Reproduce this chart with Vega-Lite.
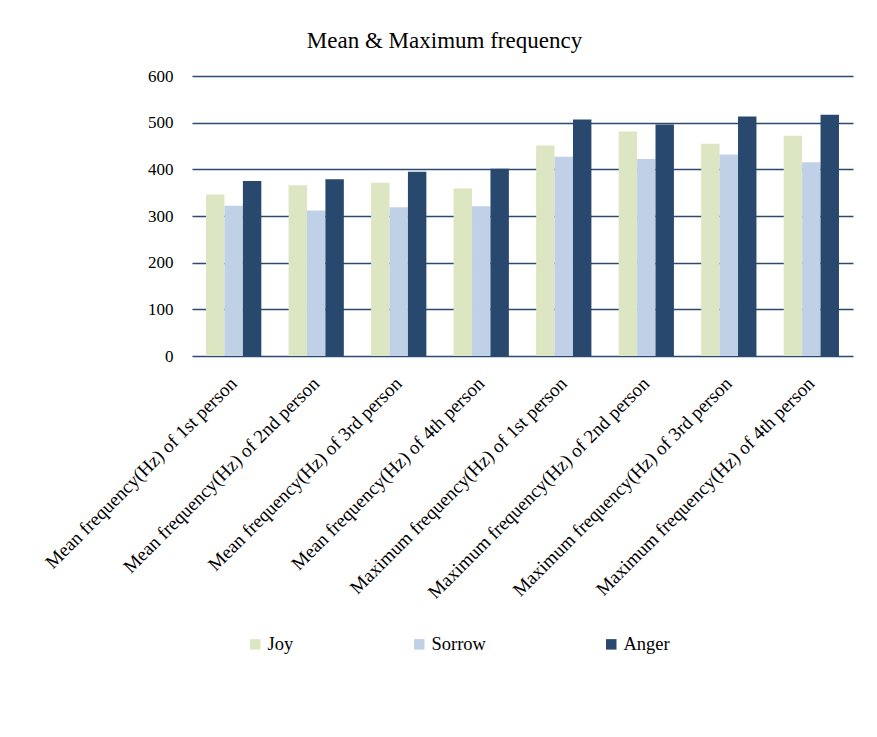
{
  "$schema": "https://vega.github.io/schema/vega-lite/v6.json",
  "width": 661,
  "height": 280,
  "autosize": {"type": "none"},
  "padding": {"left": 192, "top": 76, "right": 24, "bottom": 381},
  "background": "white",
  "title": {"text": "Mean & Maximum frequency", "font": "Liberation Serif", "fontSize": 23, "fontWeight": "normal", "color": "black", "anchor": "middle", "dx": -78, "offset": 14},
  "data": {"values": [
    {"cat": "Mean frequency(Hz) of 1st person", "emotion": "Joy", "value": 346},
    {"cat": "Mean frequency(Hz) of 1st person", "emotion": "Sorrow", "value": 322},
    {"cat": "Mean frequency(Hz) of 1st person", "emotion": "Anger", "value": 375},
    {"cat": "Mean frequency(Hz) of 2nd person", "emotion": "Joy", "value": 366},
    {"cat": "Mean frequency(Hz) of 2nd person", "emotion": "Sorrow", "value": 312},
    {"cat": "Mean frequency(Hz) of 2nd person", "emotion": "Anger", "value": 379},
    {"cat": "Mean frequency(Hz) of 3rd person", "emotion": "Joy", "value": 371},
    {"cat": "Mean frequency(Hz) of 3rd person", "emotion": "Sorrow", "value": 319},
    {"cat": "Mean frequency(Hz) of 3rd person", "emotion": "Anger", "value": 395},
    {"cat": "Mean frequency(Hz) of 4th person", "emotion": "Joy", "value": 359},
    {"cat": "Mean frequency(Hz) of 4th person", "emotion": "Sorrow", "value": 321},
    {"cat": "Mean frequency(Hz) of 4th person", "emotion": "Anger", "value": 401},
    {"cat": "Maximum frequency(Hz) of 1st person", "emotion": "Joy", "value": 451},
    {"cat": "Maximum frequency(Hz) of 1st person", "emotion": "Sorrow", "value": 427},
    {"cat": "Maximum frequency(Hz) of 1st person", "emotion": "Anger", "value": 507},
    {"cat": "Maximum frequency(Hz) of 2nd person", "emotion": "Joy", "value": 481},
    {"cat": "Maximum frequency(Hz) of 2nd person", "emotion": "Sorrow", "value": 422},
    {"cat": "Maximum frequency(Hz) of 2nd person", "emotion": "Anger", "value": 496},
    {"cat": "Maximum frequency(Hz) of 3rd person", "emotion": "Joy", "value": 455},
    {"cat": "Maximum frequency(Hz) of 3rd person", "emotion": "Sorrow", "value": 432},
    {"cat": "Maximum frequency(Hz) of 3rd person", "emotion": "Anger", "value": 513},
    {"cat": "Maximum frequency(Hz) of 4th person", "emotion": "Joy", "value": 472},
    {"cat": "Maximum frequency(Hz) of 4th person", "emotion": "Sorrow", "value": 415},
    {"cat": "Maximum frequency(Hz) of 4th person", "emotion": "Anger", "value": 517}
  ]},
  "mark": {"type": "bar"},
  "encoding": {
    "x": {
      "field": "cat", "type": "nominal", "sort": null,
      "scale": {"paddingInner": 0.33, "paddingOuter": 0.17},
      "axis": {"title": null, "labelAngle": -45, "labelAlign": "right", "labelBaseline": "middle", "labelFont": "Liberation Serif", "labelFontSize": 19, "labelColor": "black", "labelPadding": 24, "ticks": false, "domain": false, "labelLimit": 500}
    },
    "xOffset": {"field": "emotion", "sort": ["Joy", "Sorrow", "Anger"]},
    "y": {
      "field": "value", "type": "quantitative",
      "scale": {"domain": [0, 600], "nice": false},
      "axis": {"title": null, "values": [0, 100, 200, 300, 400, 500, 600], "grid": true, "gridColor": "#2B4A6F", "gridWidth": 1.5, "gridOpacity": 1, "domain": false, "ticks": false, "labelFont": "Liberation Serif", "labelFontSize": 17, "labelColor": "black", "labelPadding": 19}
    },
    "color": {
      "field": "emotion", "type": "nominal",
      "scale": {"domain": ["Joy", "Sorrow", "Anger"], "range": ["#DCE6C2", "#C0D1E7", "#28486E"]},
      "legend": {"title": null, "orient": "none", "legendX": 54, "legendY": 559, "direction": "horizontal", "symbolType": "square", "symbolSize": 110, "symbolStrokeWidth": 0, "labelFont": "Liberation Serif", "labelFontSize": 18.5, "labelColor": "black", "columnPadding": 116, "labelOffset": 3}
    }
  },
  "config": {"view": {"stroke": null}}
}
